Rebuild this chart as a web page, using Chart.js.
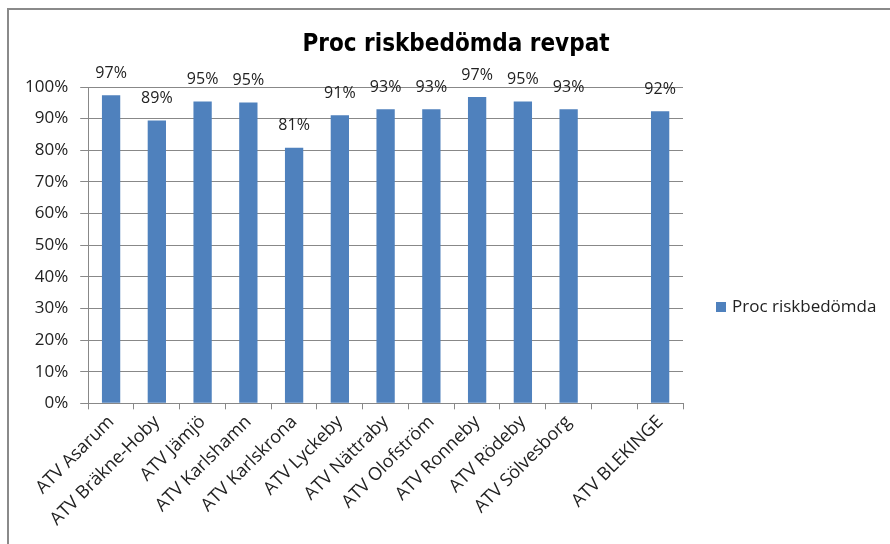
<!DOCTYPE html>
<html>
<head>
<meta charset="utf-8">
<script src="https://cdn.jsdelivr.net/npm/chart.js@4"></script>
<style>
  body { margin: 0; background: #fff; }
  #wrap { width: 890px; height: 544px; }
</style>
</head>
<body>
<div id="wrap"><canvas id="myChart" width="890" height="544"></canvas></div>
<script>
var categories = ['ATV Asarum', 'ATV Bräkne-Hoby', 'ATV Jämjö', 'ATV Karlshamn', 'ATV Karlskrona',
  'ATV Lyckeby', 'ATV Nättraby', 'ATV Olofström', 'ATV Ronneby', 'ATV Rödeby', 'ATV Sölvesborg',
  '', 'ATV BLEKINGE'];
var values = [97.4, 89.4, 95.4, 95.1, 80.8, 91.1, 93.0, 93.0, 96.8, 95.4, 93.0, null, 92.3];
var seriesName = 'Proc riskbedömda';
var chartTitle = 'Proc riskbedömda revpat';
var yTicks = [0, 10, 20, 30, 40, 50, 60, 70, 80, 90, 100];

var labelFont = '"Open Sans", "Liberation Sans", sans-serif';
var barColor = '#4f81bd';

// value labels above bars, title, legend on the right, outer frame
var extras = {
  id: 'extras',
  afterDatasetsDraw: function(chart) {
    var ctx = chart.ctx;
    var meta = chart.getDatasetMeta(0);
    ctx.save();
    ctx.fillStyle = '#222';
    ctx.font = '16px ' + labelFont;
    ctx.textAlign = 'center';
    ctx.textBaseline = 'middle';
    meta.data.forEach(function(bar, i) {
      if (values[i] == null) return;
      ctx.fillText(Math.round(values[i]) + '%', bar.x, bar.y - 22);
    });
    ctx.restore();
  },
  afterDraw: function(chart) {
    var ctx = chart.ctx;
    ctx.save();
    // title
    ctx.fillStyle = '#000';
    ctx.font = 'bold 24px "Liberation Sans Narrow", "DejaVu Sans Condensed", sans-serif';
    ctx.textAlign = 'center';
    ctx.textBaseline = 'middle';
    ctx.fillText(chartTitle, 456, 45);
    // legend
    var ly = 307;
    ctx.fillStyle = barColor;
    ctx.fillRect(716, ly - 5, 10, 10);
    ctx.fillStyle = '#222';
    ctx.font = '17px ' + labelFont;
    ctx.textAlign = 'left';
    ctx.fillText(seriesName, 732, ly);
    // frame
    ctx.strokeStyle = '#8a8a8a';
    ctx.lineWidth = 2;
    ctx.strokeRect(8, 9, 900, 560);
    ctx.restore();
  }
};

var ctx = document.getElementById('myChart').getContext('2d');
var myChart = new Chart(ctx, {
  type: 'bar',
  data: {
    labels: categories,
    datasets: [{
      label: seriesName,
      data: values,
      backgroundColor: barColor,
      categoryPercentage: 1,
      barPercentage: 0.4
    }]
  },
  options: {
    responsive: false,
    animation: false,
    layout: { padding: { left: 13, top: 87, right: 207, bottom: 12 } },
    plugins: {
      title: { display: false },
      legend: { display: false },
      tooltip: { enabled: false }
    },
    scales: {
      x: {
        grid: { drawOnChartArea: false, drawTicks: true, tickLength: 6, color: '#888', offset: true },
        border: { color: '#888' },
        ticks: {
          color: '#222',
          font: { family: labelFont, size: 18 },
          minRotation: 45,
          maxRotation: 45,
          autoSkip: false,
          padding: 2
        }
      },
      y: {
        min: 0,
        max: 100,
        afterBuildTicks: function(axis) {
          axis.ticks = yTicks.map(function(v) { return { value: v }; });
        },
        grid: { color: '#888', tickLength: 8 },
        border: { color: '#888' },
        ticks: {
          color: '#222',
          font: { family: labelFont, size: 17 },
          padding: 12,
          callback: function(v) { return v + '%'; }
        }
      }
    }
  },
  plugins: [extras]
});
</script>
</body>
</html>
